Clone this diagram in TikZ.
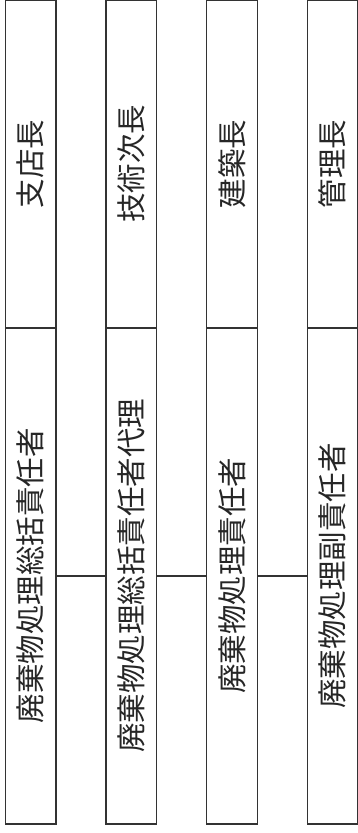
\documentclass[tikz,border=0pt]{standalone}
\usepackage{fontspec}
\setmainfont{Noto Sans CJK JP}
\begin{document}
\begin{tikzpicture}[x=1pt,y=1pt,
  line/.style={draw=black!80, line width=1.4pt},
  colbox/.style={line, rotate=90, inner sep=0pt, minimum height=50.5pt,
    text=black!85, font=\fontsize{29.5}{31}\selectfont},
  topbox/.style={colbox, minimum width=328pt},
  botbox/.style={colbox, minimum width=496pt}]
\useasboundingbox (0,0) rectangle (358,833);
% top boxes (y 0..328 from top)
\node[topbox] (t1) at (30.75,669) {支店長};
\node[topbox] (t2) at (131.25,669) {技術次長};
\node[topbox] (t3) at (232,669) {建築長};
\node[topbox] (t4) at (332.6,669) {管理長};
% bottom boxes (y 328..824 from top)
\node[botbox] (b1) at (30.75,257) {廃棄物処理総括責任者};
\node[botbox] (b2) at (131.25,257) {廃棄物処理総括責任者代理};
\node[botbox] (b3) at (232,257) {廃棄物処理責任者};
\node[botbox] (b4) at (332.6,257) {廃棄物処理副責任者};
% connectors
\draw[line] (b1.south) -- (b2.north);
\draw[line] (b2.south) -- (b3.north);
\draw[line] (b3.south) -- (b4.north);
\end{tikzpicture}
\end{document}
